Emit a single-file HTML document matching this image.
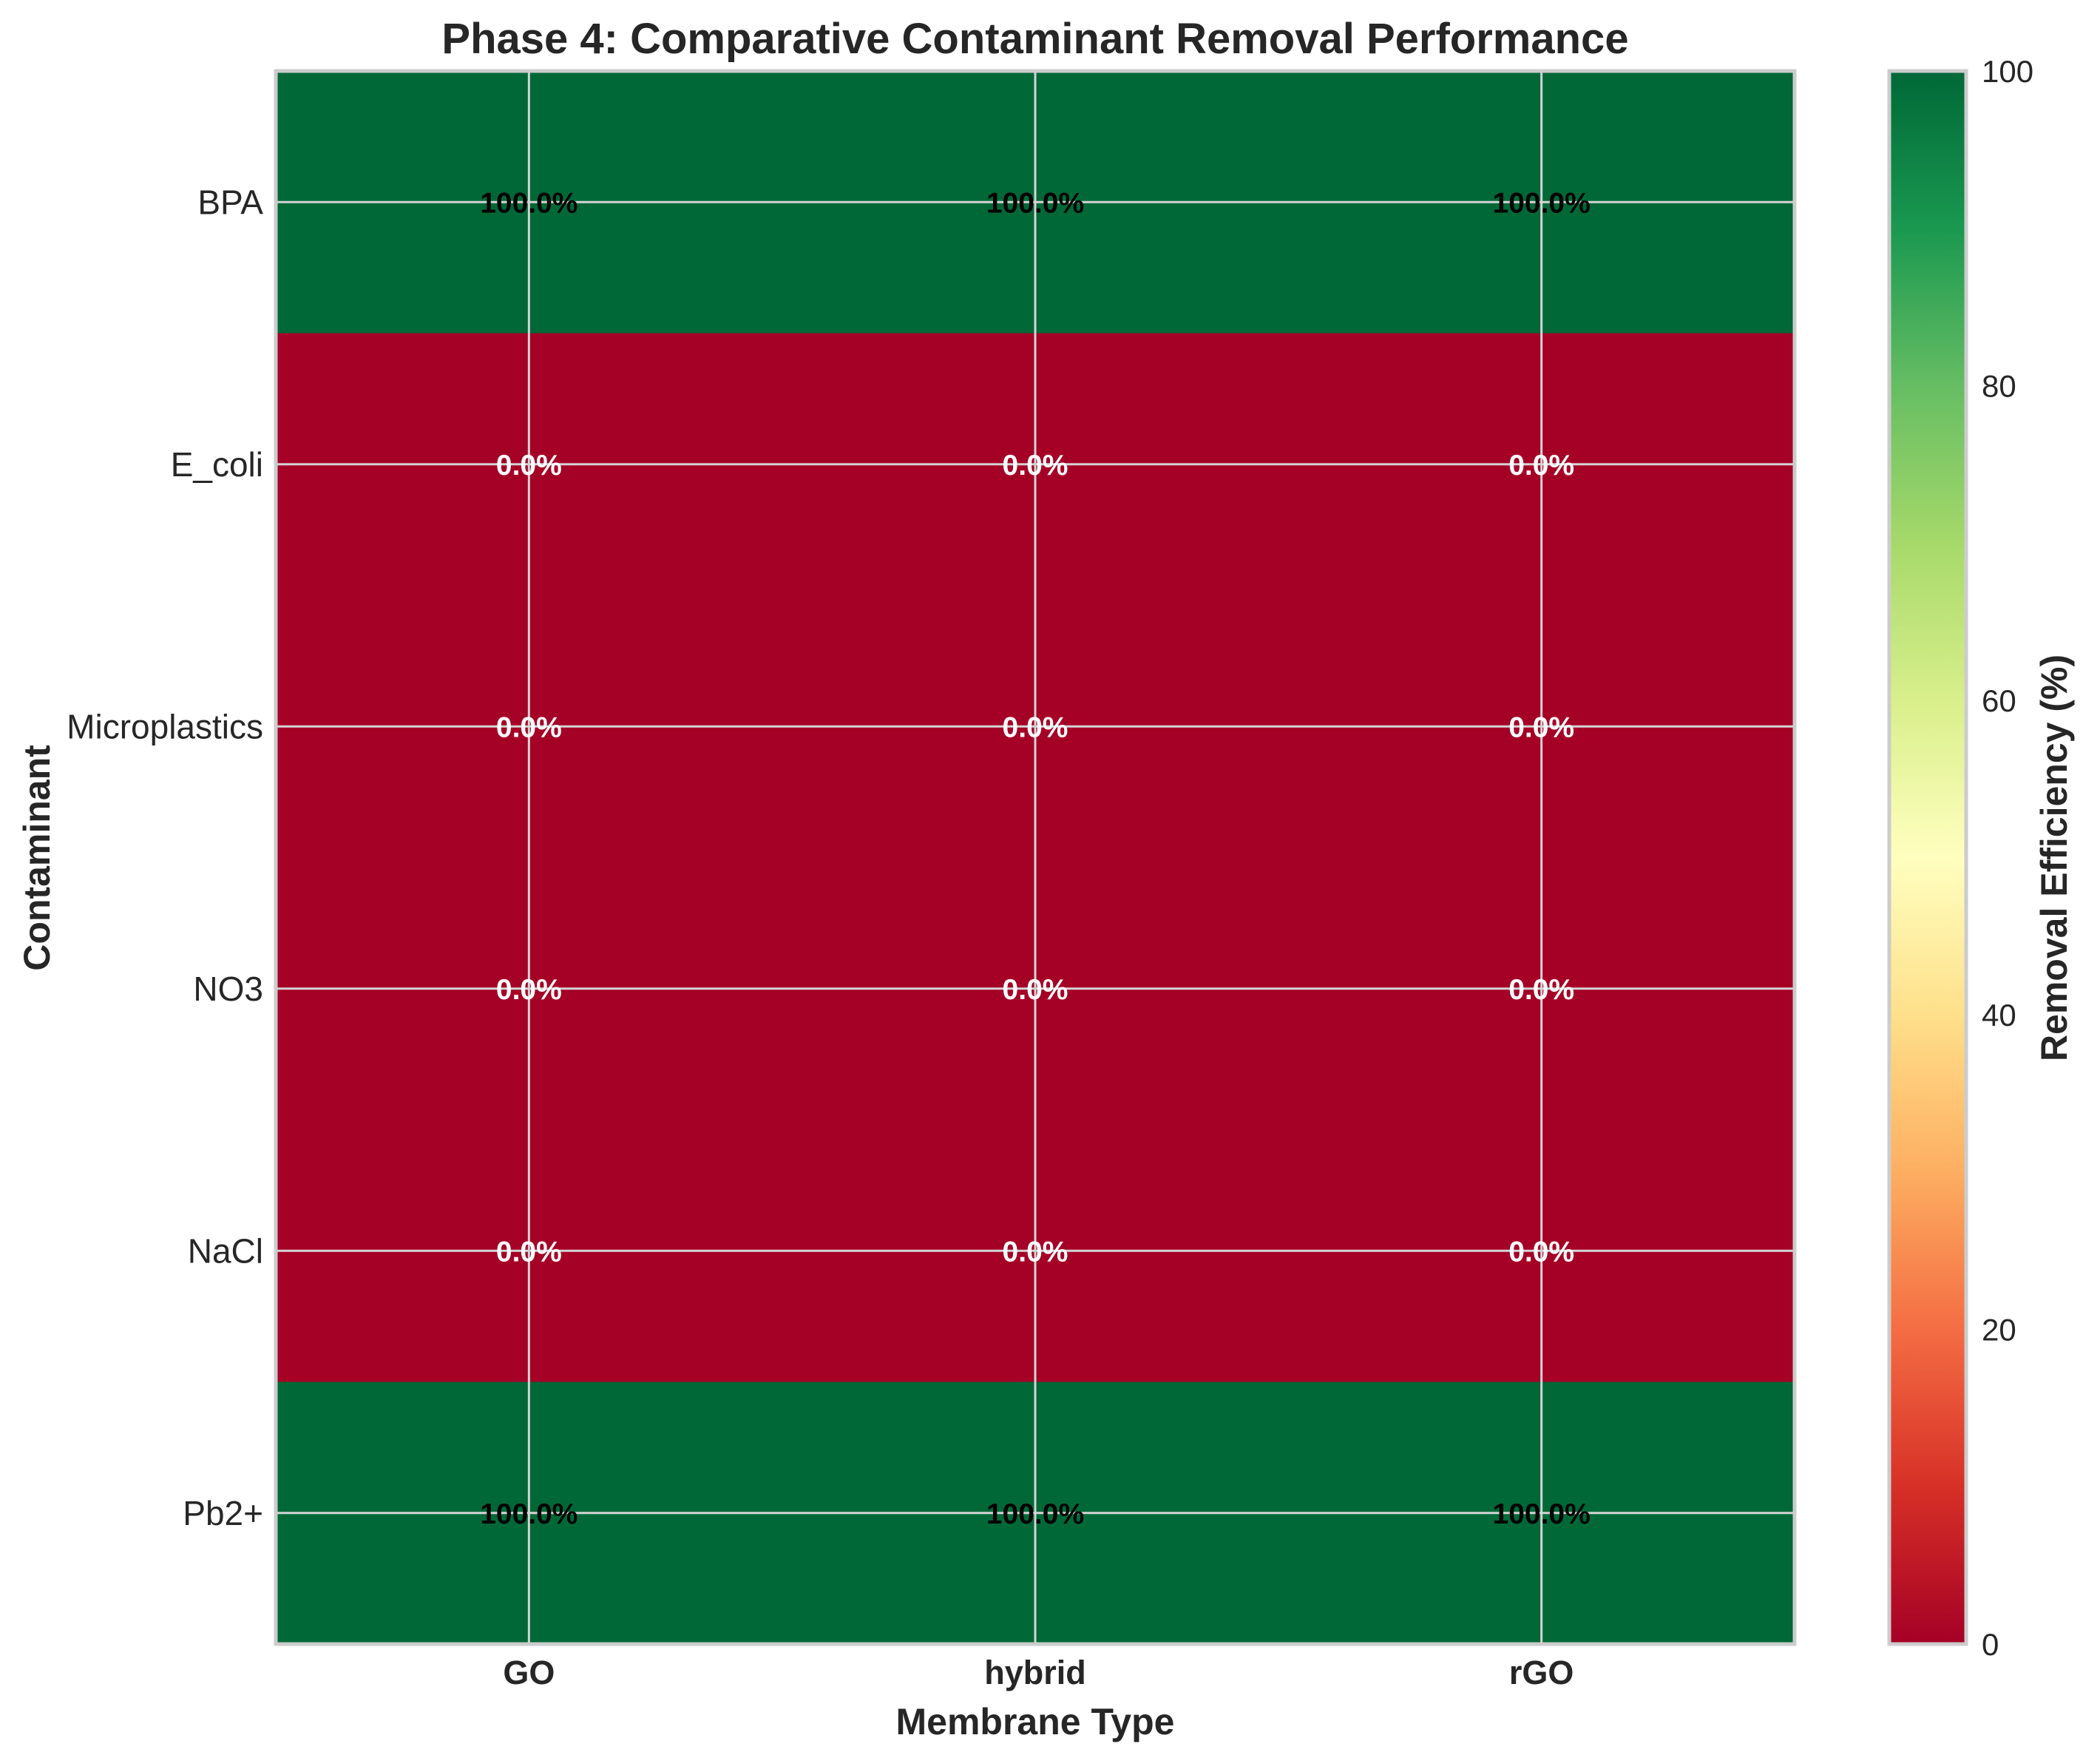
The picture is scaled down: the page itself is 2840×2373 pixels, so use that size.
<!DOCTYPE html>
<html><head><meta charset="utf-8"><style>
body{margin:0;background:#fff}
svg{display:block;font-family:"Liberation Sans",Arial,sans-serif}
</style></head><body>
<svg id="chart" width="2840" height="2373" viewBox="0 0 2840 2373">
<defs>
<linearGradient id="rdylgn" x1="0" y1="1" x2="0" y2="0">
<stop offset="0" stop-color="#a50026"/><stop offset="0.1" stop-color="#d73027"/><stop offset="0.2" stop-color="#f46d43"/><stop offset="0.3" stop-color="#fdae61"/><stop offset="0.4" stop-color="#fee08b"/><stop offset="0.5" stop-color="#ffffbf"/><stop offset="0.6" stop-color="#d9ef8b"/><stop offset="0.7" stop-color="#a6d96a"/><stop offset="0.8" stop-color="#66bd63"/><stop offset="0.9" stop-color="#1a9850"/><stop offset="1" stop-color="#006837"/>
</linearGradient>
</defs>
<text x="1400" y="72" text-anchor="middle" font-size="58" font-weight="bold" fill="#262626">Phase 4: Comparative Contaminant Removal Performance</text>
<g id="cells"></g>
<g id="grid"></g>
<g id="labels"></g>
<rect x="373" y="96" width="2054" height="2127" fill="none" stroke="#cccccc" stroke-width="5"/>
<text x="1400" y="2345" text-anchor="middle" font-size="50" font-weight="bold" fill="#262626">Membrane Type</text>
<text transform="translate(67,1160) rotate(-90)" text-anchor="middle" font-size="50" font-weight="bold" fill="#262626">Contaminant</text>
<rect x="2555" y="96" width="104" height="2127" fill="url(#rdylgn)" stroke="#cccccc" stroke-width="5"/>
<g id="cbticks"></g>
<text transform="translate(2795,1160) rotate(-90)" text-anchor="middle" font-size="50" font-weight="bold" fill="#262626">Removal Efficiency (%)</text>
</svg>
<script>
const membranes = ["GO", "hybrid", "rGO"];
const contaminants = ["BPA", "E_coli", "Microplastics", "NO3", "NaCl", "Pb2+"];
const valuesGO = [100, 0, 0, 0, 0, 100];
const valuesHybrid = [100, 0, 0, 0, 0, 100];
const valuesRGO = [100, 0, 0, 0, 0, 100];
const cbTicks = [0, 20, 40, 60, 80, 100];

const NS = "http://www.w3.org/2000/svg";
const L = 373, R = 2427, T = 96, B = 2223;
const cw = (R - L) / membranes.length, ch = (B - T) / contaminants.length;
const xC = i => L + cw * (i + 0.5);
const yC = j => T + ch * (j + 0.5);
const cbY = v => B - (v / 100) * (B - T);
const stops = [[0,"#a50026"],[10,"#d73027"],[20,"#f46d43"],[30,"#fdae61"],[40,"#fee08b"],[50,"#ffffbf"],[60,"#d9ef8b"],[70,"#a6d96a"],[80,"#66bd63"],[90,"#1a9850"],[100,"#006837"]];
function color(v){
  v = Math.max(0, Math.min(100, v));
  for (let k = 0; k < stops.length - 1; k++) {
    if (v <= stops[k+1][0]) {
      const t = (v - stops[k][0]) / 10;
      const a = stops[k][1], b = stops[k+1][1];
      const c = [1,3,5].map(p => Math.round(parseInt(a.substr(p,2),16)*(1-t) + parseInt(b.substr(p,2),16)*t));
      return "rgb(" + c.join(",") + ")";
    }
  }
  return stops[10][1];
}
function mk(tag, attrs, parent, txt){
  const e = document.createElementNS(NS, tag);
  for (const k in attrs) e.setAttribute(k, attrs[k]);
  if (txt !== undefined) e.textContent = txt;
  parent.appendChild(e);
  return e;
}
const series = [valuesGO, valuesHybrid, valuesRGO];
const cells = document.getElementById("cells"), grid = document.getElementById("grid"), labels = document.getElementById("labels");
series.forEach((vals, i) => {
  vals.forEach((v, j) => {
    const r = mk("rect", {x: L + cw*i, y: T + ch*j, width: cw + 0.5, height: ch + 0.5, fill: color(v)}, cells);
    
    
  });
});
membranes.forEach((m, i) => {
  const g = mk("line", {x1: xC(i), x2: xC(i), y1: T, y2: B, stroke: "#d4d4d4", "stroke-width": 3}, grid);
  
  
  const t = mk("text", {x: xC(i), y: 2277, "text-anchor": "middle", "font-size": 45, "font-weight": "bold", fill: "#262626"}, labels, m);
  
  
});
contaminants.forEach((c, j) => {
  const g = mk("line", {x1: L, x2: R, y1: yC(j), y2: yC(j), stroke: "#d4d4d4", "stroke-width": 3}, grid);
  
  
  const t = mk("text", {x: 356, y: yC(j) + 16, "text-anchor": "end", "font-size": 46, fill: "#262626"}, labels, c);
  
  
});
series.forEach((vals, i) => {
  vals.forEach((v, j) => {
    const t = mk("text", {x: xC(i), y: yC(j) + 14, "text-anchor": "middle", "font-size": 39, "font-weight": "bold", fill: v > 50 ? "#000" : "#fff"}, labels, v.toFixed(1) + "%");
    
    
  });
});
const cbg = document.getElementById("cbticks");
cbTicks.forEach(v => {
  const t = mk("text", {x: 2680, y: cbY(v) + 15, "font-size": 42, fill: "#262626"}, cbg, String(v));
  
  
});
</script>
</body></html>
